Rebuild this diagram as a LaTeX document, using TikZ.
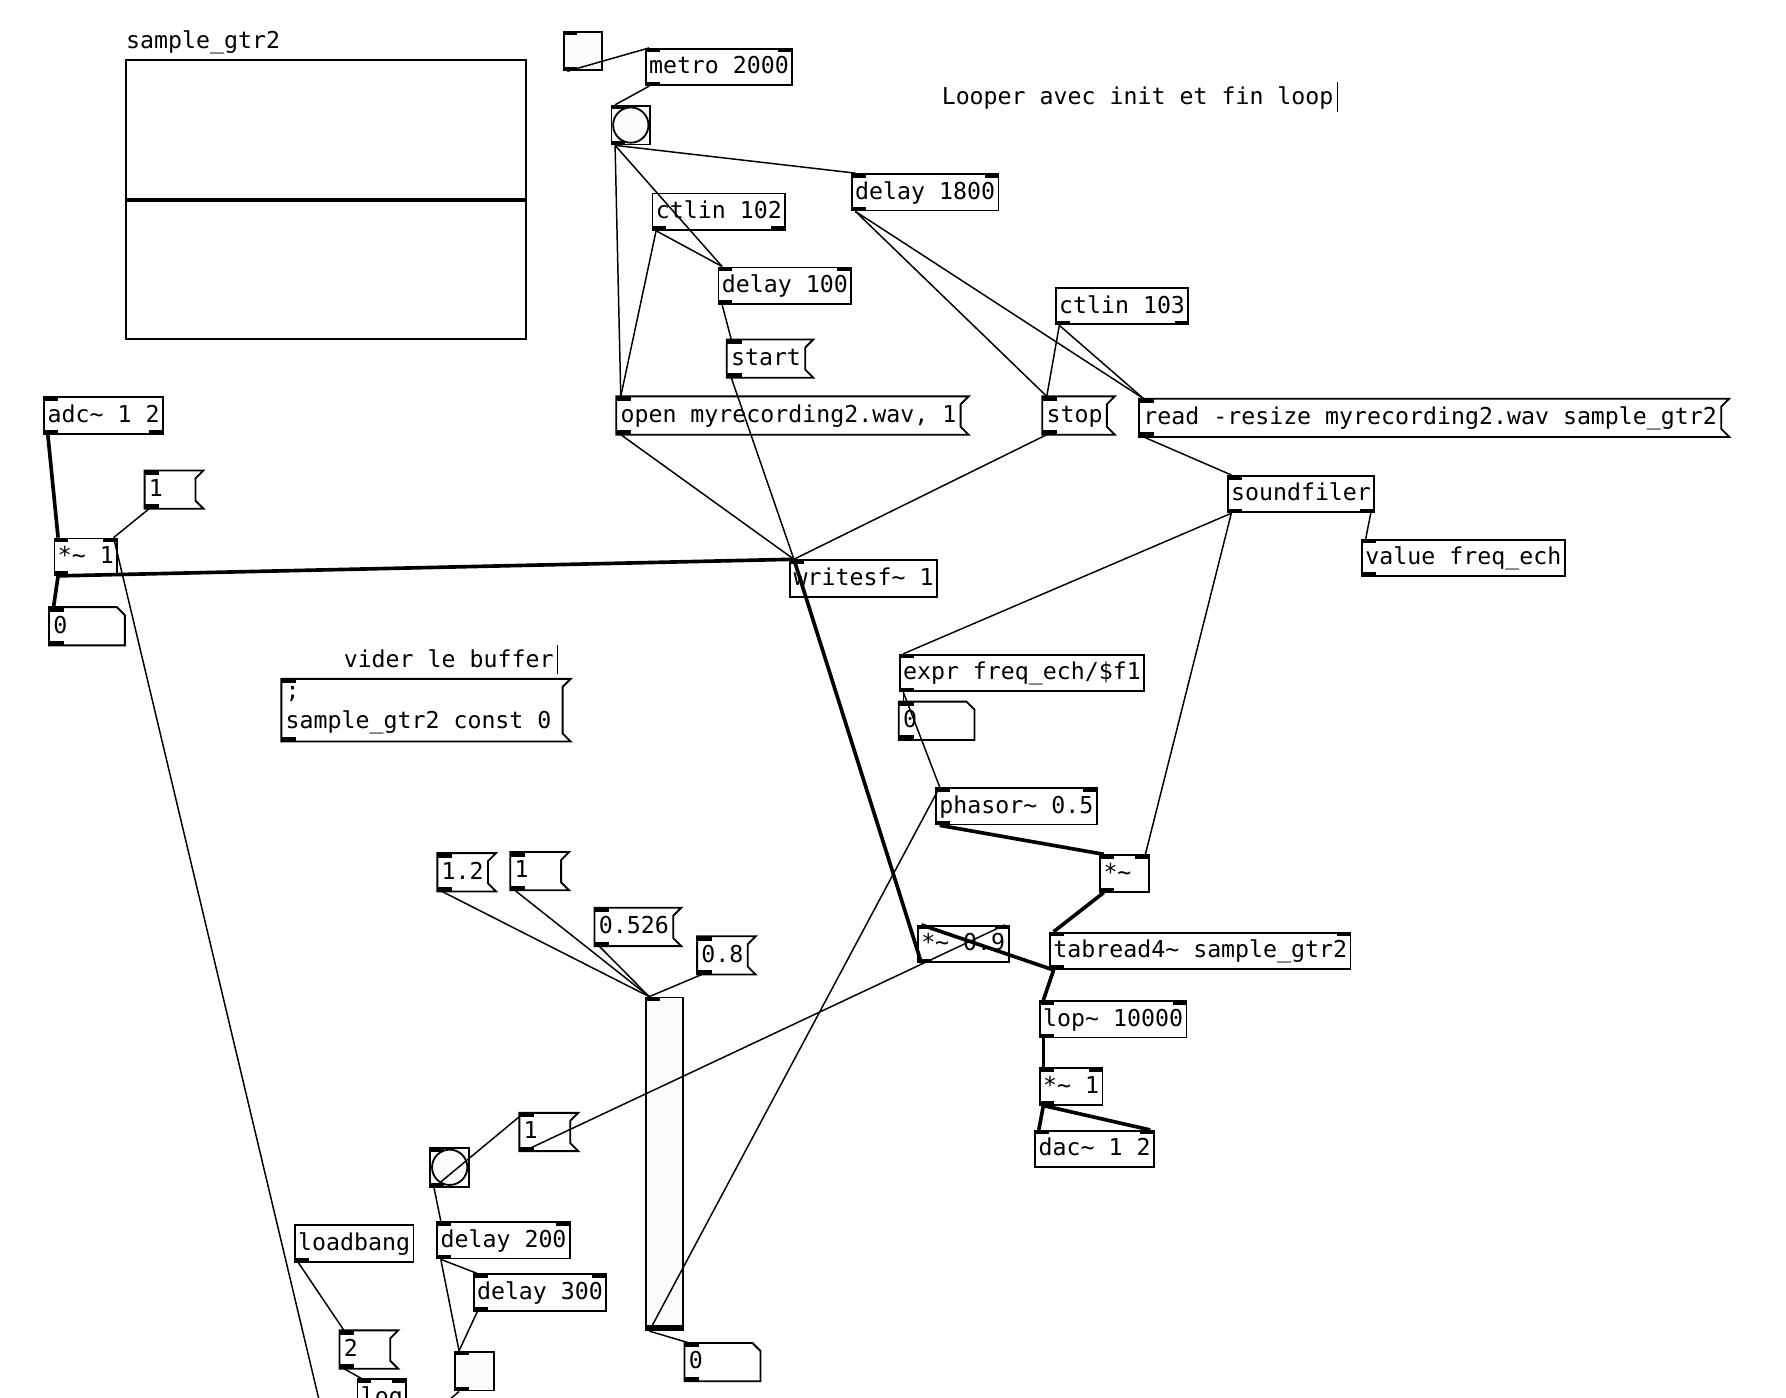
\documentclass[tikz,border=0pt]{standalone}
\usepackage{fontspec}
\newfontfamily\pdfont{DejaVu Sans Mono}
\newcommand{\tld}{\char`\~}
\newcommand{\cursor}{\hspace{3pt}\rule[-6pt]{1.2pt}{26pt}}

\begin{document}
\begin{tikzpicture}[x=1pt, y=-1pt,
    every node/.style={font=\pdfont\fontsize{20.4}{27}\selectfont, anchor=north west,
      inner xsep=3pt, inner ysep=5.5pt, text height=16pt, text depth=4pt,
      minimum height=32pt, line width=1.6pt},
    obj/.style={draw},
    msg/.style={},
    atom/.style={text width=59pt, align=left},
    short/.style={text width=37pt, align=left},
    gui/.style={draw, fill=gray!3, minimum size=34pt, inner sep=0pt},
    comment/.style={anchor=west, inner sep=0pt, minimum height=0pt},
    cord/.style={line width=1.3pt},
    sig/.style={line width=3.2pt}]
    \useasboundingbox (0,0) rectangle (1568,1227);
    \fill[white] (0,0) rectangle (1568,1227);
    \clip (0,0) rectangle (1568,1227);

    % table
    \node[comment] (arrname) at (110,37) {sample\_gtr2};
    \node[draw, inner sep=0pt, minimum width=351pt, minimum height=245pt] (arr) at (110,52) {};
    \draw[line width=3.5pt] (arr.west) -- (arr.east);

    % recording
    \node[gui] (tgltop) at (494,27) {};
    \node[obj] (metro) at (566,42) {metro 2000};
    \node[gui] (bangtop) at (536,92) {};
    \draw[line width=1.6pt] (bangtop.center) circle (15.5);
    \node[comment] (title) at (826,86) {Looper avec init et fin loop\cursor};
    \node[obj] (dly1800) at (747,152) {delay 1800};
    \node[obj] (ctl102) at (572,169) {ctlin 102};
    \node[obj] (dly100) at (630,234) {delay 100};
    \node[msg] (start) at (638,298) {start};
    \node[msg] (open) at (541,348) {open myrecording2.wav, 1};
    \node[msg] (stop) at (915,348) {stop};
    \node[obj] (ctl103) at (926,252) {ctlin 103};
    \node[msg] (read) at (1000,350) {read -resize myrecording2.wav sample\_gtr2};
    \node[obj] (sfiler) at (1077,417) {soundfiler};
    \node[obj] (value) at (1195,473) {value freq\_ech};
    \node[obj] (adc) at (38,348) {adc\tld{} 1 2};
    \node[msg, short] (one) at (127,413) {1};
    \node[obj] (mula) at (47,472) {*\tld{} 1};
    \node[atom] (numa) at (43,533) {0};
    \node[obj] (wsf) at (693,491) {writesf\tld{} 1};
    \node[comment] (vider) at (301,580) {vider le buffer\cursor};
    \node[msg, align=left, text height={}, text depth={}] (clear) at (247,596) {;\\sample\_gtr2 const 0\hspace*{6pt}};

    % playback
    \node[obj] (expr) at (789,574) {expr freq\_ech/\$f1};
    \node[atom] (numb) at (789,616) {0};
    \node[obj] (phasor) at (821,691) {phasor\tld{} 0.5};
    \node[obj, short] (mul) at (965,750) {*\tld};
    \node[msg] (m12) at (384,749) {1.2};
    \node[msg, short] (m1b) at (448,748) {1};
    \node[msg] (m0526) at (522,797) {0.526};
    \node[msg] (m08) at (612,822) {0.8};
    \node[obj] (mul09) at (805,812) {*\tld{} 0.9};
    \node[obj] (tabread) at (921,818) {tabread4\tld{} sample\_gtr2};
    \node[obj] (lop) at (912,878) {lop\tld{} 10000};
    \node[obj] (mulb) at (912,937) {*\tld{} 1};
    \node[obj] (dac) at (908,992) {dac\tld{} 1 2};
    \node[gui, minimum width=33pt, minimum height=292pt] (slider) at (566,875) {};
    \node[atom] (numc) at (601,1179) {0};
    \node[gui] (banglow) at (377,1007) {};
    \draw[line width=1.6pt] (banglow.center) circle (15.5);
    \node[msg, short] (m1c) at (456,977) {1};
    \node[obj] (loadbang) at (258,1075) {loadbang};
    \node[obj] (dly200) at (383,1072) {delay 200};
    \node[obj] (dly300) at (415,1118) {delay 300};
    \node[msg, short] (m2) at (298,1168) {2};
    \node[obj] (log) at (313,1210) {log};
    \node[gui] (tgllow) at (399,1186) {};
    \coordinate (logsrc) at (297,1300);
    \coordinate (tglsink) at (370,1250);

    % message and number outlines
    \foreach \m in {start,open,stop,read,one,clear,m12,m1b,m0526,m08,m1c,m2}
      \draw[line width=1.6pt] (\m.north west) -- ([xshift=7pt]\m.north east) -- ([yshift=-7pt]\m.north east)
        -- ([yshift=7pt]\m.south east) -- ([xshift=7pt]\m.south east) -- (\m.south west) -- cycle;
    \foreach \a in {numa,numb,numc}
      \draw[line width=1.6pt] (\a.south west) -- (\a.north west) -- ([xshift=-7pt]\a.north east)
        -- ([yshift=-7pt]\a.north east) -- (\a.south east) -- cycle;
    \fill ([yshift=5pt]slider.south west) rectangle (slider.south east);

    % inlets and outlets
    \foreach \n in {tgltop,metro,bangtop,dly1800,dly100,start,open,stop,read,sfiler,value,adc,one,mula,numa,wsf,clear,expr,numb,phasor,mul,m12,m1b,m0526,m08,mul09,tabread,lop,mulb,dac,banglow,m1c,slider,numc,dly200,dly300,m2,log,tgllow}
      \fill (\n.north west) rectangle ++(13,4);
    \foreach \n in {metro,dly1800,dly100,mula,phasor,mul,mul09,tabread,lop,mulb,dac,dly200,dly300,log}
      \fill (\n.north east) rectangle ++(-13,4);
    \foreach \n in {tgltop,metro,bangtop,dly1800,ctl102,dly100,start,open,stop,ctl103,read,sfiler,value,adc,one,mula,numa,clear,expr,numb,phasor,mul,m12,m1b,m0526,m08,mul09,tabread,lop,mulb,banglow,m1c,numc,loadbang,dly200,dly300,m2,tgllow}
      \fill (\n.south west) rectangle ++(13,-4);
    \foreach \n in {ctl102,ctl103,sfiler,adc}
      \fill (\n.south east) rectangle ++(-13,-4);

    % control cords
    \draw[cord] ([xshift=4pt]tgltop.south west) -- ([xshift=4pt]metro.north west);
    \draw[cord] ([xshift=4pt]metro.south west) -- ([xshift=4pt]bangtop.north west);
    \draw[cord] ([xshift=4pt]bangtop.south west) -- ([xshift=4pt]open.north west);
    \draw[cord] ([xshift=4pt]bangtop.south west) -- ([xshift=4pt]dly100.north west);
    \draw[cord] ([xshift=4pt]bangtop.south west) -- ([xshift=4pt]dly1800.north west);
    \draw[cord] ([xshift=4pt]ctl102.south west) -- ([xshift=4pt]dly100.north west);
    \draw[cord] ([xshift=4pt]ctl102.south west) -- ([xshift=4pt]open.north west);
    \draw[cord] ([xshift=4pt]dly100.south west) -- ([xshift=4pt]start.north west);
    \draw[cord] ([xshift=4pt]start.south west) -- ([xshift=4pt]wsf.north west);
    \draw[cord] ([xshift=4pt]open.south west) -- ([xshift=4pt]wsf.north west);
    \draw[cord] ([xshift=4pt]stop.south west) -- ([xshift=4pt]wsf.north west);
    \draw[cord] ([xshift=4pt]dly1800.south west) -- ([xshift=4pt]stop.north west);
    \draw[cord] ([xshift=4pt]dly1800.south west) -- ([xshift=4pt]read.north west);
    \draw[cord] ([xshift=4pt]ctl103.south west) -- ([xshift=4pt]stop.north west);
    \draw[cord] ([xshift=4pt]ctl103.south west) -- ([xshift=4pt]read.north west);
    \draw[cord] ([xshift=4pt]read.south west) -- ([xshift=4pt]sfiler.north west);
    \draw[cord] ([xshift=4pt]sfiler.south west) -- ([xshift=4pt]expr.north west);
    \draw[cord] ([xshift=4pt]sfiler.south west) -- ([xshift=-4pt]mul.north east);
    \draw[cord] ([xshift=-4pt]sfiler.south east) -- ([xshift=4pt]value.north west);
    \draw[cord] ([xshift=4pt]expr.south west) -- ([xshift=4pt]numb.north west);
    \draw[cord] ([xshift=4pt]expr.south west) -- ([xshift=4pt]phasor.north west);
    \draw[cord] ([xshift=4pt]one.south west) -- ([xshift=-4pt]mula.north east);
    \draw[cord] ([xshift=4pt]m12.south west) -- ([xshift=4pt]slider.north west);
    \draw[cord] ([xshift=4pt]m1b.south west) -- ([xshift=4pt]slider.north west);
    \draw[cord] ([xshift=4pt]m0526.south west) -- ([xshift=4pt]slider.north west);
    \draw[cord] ([xshift=4pt]m08.south west) -- ([xshift=4pt]slider.north west);
    \draw[cord] ([xshift=4pt]slider.south west) -- ([xshift=4pt]numc.north west);
    \draw[cord] ([xshift=4pt]slider.south west) -- ([xshift=4pt]phasor.north west);
    \draw[cord] ([xshift=4pt]banglow.south west) -- ([xshift=4pt]m1c.north west);
    \draw[cord] ([xshift=4pt]banglow.south west) -- ([xshift=4pt]dly200.north west);
    \draw[cord] ([xshift=4pt]m1c.south west) -- ([xshift=-4pt]mul09.north east);
    \draw[cord] ([xshift=4pt]dly200.south west) -- ([xshift=4pt]dly300.north west);
    \draw[cord] ([xshift=4pt]dly200.south west) -- ([xshift=4pt]tgllow.north west);
    \draw[cord] ([xshift=4pt]dly300.south west) -- ([xshift=4pt]tgllow.north west);
    \draw[cord] ([xshift=4pt]loadbang.south west) -- ([xshift=4pt]m2.north west);
    \draw[cord] ([xshift=4pt]m2.south west) -- ([xshift=4pt]log.north west);
    \draw[cord] ([xshift=4pt]tgllow.south west) -- (tglsink);
    \draw[cord] (logsrc) -- ([xshift=-4pt]mula.north east);

    % signal cords
    \draw[sig] ([xshift=4pt]adc.south west) -- ([xshift=4pt]mula.north west);
    \draw[sig] ([xshift=4pt]mula.south west) -- ([xshift=4pt]numa.north west);
    \draw[sig] ([xshift=4pt]mula.south west) -- ([xshift=4pt]wsf.north west);
    \draw[sig] ([xshift=4pt]mul09.south west) -- ([xshift=4pt]wsf.north west);
    \draw[sig] ([xshift=4pt]phasor.south west) -- ([xshift=4pt]mul.north west);
    \draw[sig] ([xshift=4pt]mul.south west) -- ([xshift=4pt]tabread.north west);
    \draw[sig] ([xshift=4pt]tabread.south west) -- ([xshift=4pt]lop.north west);
    \draw[sig] ([xshift=4pt]tabread.south west) -- ([xshift=4pt]mul09.north west);
    \draw[sig] ([xshift=4pt]lop.south west) -- ([xshift=4pt]mulb.north west);
    \draw[sig] ([xshift=4pt]mulb.south west) -- ([xshift=4pt]dac.north west);
    \draw[sig] ([xshift=4pt]mulb.south west) -- ([xshift=-4pt]dac.north east);
\end{tikzpicture}
\end{document}
